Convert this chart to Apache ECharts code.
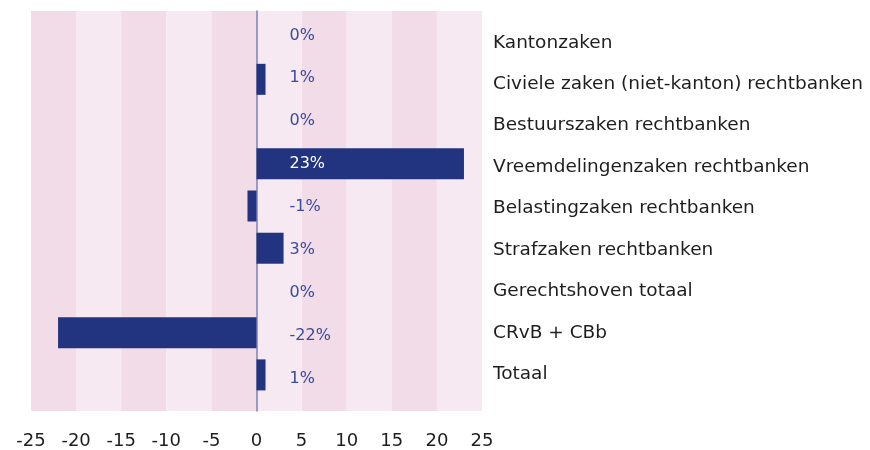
<!DOCTYPE html>
<html>
<head>
<meta charset="utf-8">
<script src="https://cdn.jsdelivr.net/npm/echarts@6/dist/echarts.min.js"></script>
<style>
  html, body { margin: 0; padding: 0; background: #fff; }
  #chart { width: 870px; height: 450px; }
</style>
</head>
<body>
<div id="chart"></div>
<script>
// chart data
var categories = [
  "Kantonzaken",
  "Civiele zaken (niet-kanton) rechtbanken",
  "Bestuurszaken rechtbanken",
  "Vreemdelingenzaken rechtbanken",
  "Belastingzaken rechtbanken",
  "Strafzaken rechtbanken",
  "Gerechtshoven totaal",
  "CRvB + CBb",
  "Totaal"
];
var values = [0, 1, 0, 23, -1, 3, 0, -22, 1];
var xTicks = [-25, 25, 5]; // min, max, step

var font = "DejaVu Sans";
var navy = "#22337f";
var labelBlue = "#3a4a9c";

var chart = echarts.init(document.getElementById("chart"));

// labels sit right of the zero line, white where the bar runs under them
var labelData = values.map(function (v) {
  return { value: 0, label: { color: v > 5 ? "#ffffff" : labelBlue } };
});

function hiddenX(i) {
  return {
    gridIndex: i,
    type: "value",
    min: xTicks[0],
    max: xTicks[1],
    interval: xTicks[2],
    show: false
  };
}

var option = {
  animation: false,
  grid: [
    { left: 31, right: 388, top: 11, bottom: 39 }, // bands, zero line, x labels
    { left: 31, right: 388, top: 16, bottom: 54 }, // bars
    { left: 31, right: 388, top: 14, bottom: 50 }, // value labels
    { left: 31, right: 388, top: 22, bottom: 55 }  // category names
  ],
  xAxis: [
    {
      gridIndex: 0,
      type: "value",
      min: xTicks[0],
      max: xTicks[1],
      interval: xTicks[2],
      axisLine: { show: false },
      axisTick: { show: false },
      splitLine: { show: false },
      splitArea: {
        show: true,
        areaStyle: { color: ["#f2dce8", "#f6e9f1"] }
      },
      axisLabel: {
        color: "#1e1e1e",
        fontFamily: font,
        fontSize: 18,
        margin: 21
      }
    },
    hiddenX(1),
    hiddenX(2),
    hiddenX(3)
  ],
  yAxis: [
    {
      gridIndex: 0,
      type: "category",
      data: [""],
      axisLine: { show: true, onZero: true, lineStyle: { color: "#7b7fb2", width: 1.5 } },
      axisTick: { show: false },
      axisLabel: { show: false }
    },
    {
      gridIndex: 1,
      type: "category",
      inverse: true,
      data: categories,
      show: false
    },
    {
      gridIndex: 2,
      type: "category",
      inverse: true,
      data: categories,
      show: false
    },
    {
      gridIndex: 3,
      type: "category",
      inverse: true,
      position: "right",
      data: categories,
      axisLine: { show: false, onZero: false },
      axisTick: { show: false },
      axisLabel: {
        color: "#1e1e1e",
        fontFamily: font,
        fontSize: 18.5,
        margin: 11
      }
    }
  ],
  series: [
    {
      type: "bar",
      xAxisIndex: 1,
      yAxisIndex: 1,
      data: values,
      barWidth: 31,
      itemStyle: { color: navy }
    },
    {
      type: "bar",
      xAxisIndex: 2,
      yAxisIndex: 2,
      data: labelData,
      barWidth: 31,
      itemStyle: { color: "transparent" },
      z: 5,
      label: {
        show: true,
        position: "right",
        distance: 33,
        fontFamily: font,
        fontSize: 16,
        formatter: function (p) {
          return values[p.dataIndex] + "%";
        }
      }
    }
  ]
};

chart.setOption(option);
</script>
</body>
</html>
